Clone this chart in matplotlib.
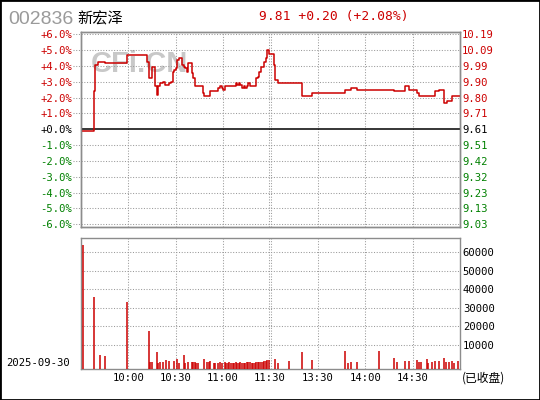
"""
Intraday chart (price line + volume bars) for one stock, 2025-09-30.
"""

import matplotlib
matplotlib.use("Agg")           # no GUI needed
import matplotlib.pyplot as plt
from matplotlib.patches import Rectangle

CODE = "002836"
NAME = "新宏泽"
DATE = "2025-09-30"
STATUS = "(已收盘)"
PREV_CLOSE = 9.61
LAST = 9.81

# price changes: trading minute after 9:30 -> new price (held until next change)
PRICE_MIN = [0, 8, 9, 11, 15, 29, 42, 43, 45, 47, 48, 49, 50, 52, 53, 56, 57,
             58, 59, 60, 61, 62, 64, 65, 66, 67, 68, 70, 71, 72, 77, 78, 82,
             87, 88, 89, 90, 91, 98, 99, 100, 101, 102, 103, 104, 105, 106,
             107, 111, 112, 113, 114, 116, 117, 118, 119, 122, 123, 125, 140,
             146, 167, 171, 175, 198, 205, 208, 213, 214, 224, 227, 230, 232,
             235, 240]
PRICE = [9.60, 9.84, 10.00, 10.02, 10.01, 10.06, 10.02, 9.92, 9.99, 9.87,
         9.82, 9.87, 9.89, 9.90, 9.88, 9.89, 9.90, 9.96, 9.97, 9.98, 10.03,
         10.04, 10.00, 9.99, 9.98, 9.96, 10.01, 9.95, 9.92, 9.87, 9.83, 9.81,
         9.84, 9.86, 9.87, 9.86, 9.85, 9.87, 9.89, 9.88, 9.89, 9.88, 9.86,
         9.87, 9.86, 9.87, 9.89, 9.87, 9.92, 9.93, 9.96, 9.99, 10.02, 10.04,
         10.09, 10.07, 10.00, 9.91, 9.89, 9.81, 9.83, 9.85, 9.86, 9.85, 9.84,
         9.87, 9.85, 9.83, 9.81, 9.84, 9.85, 9.77, 9.78, 9.81, 9.81]

# volume per trading minute (only minutes with trades)
VOL_MIN = [1, 8, 12, 15, 29, 43, 44, 45, 48, 49, 50, 52, 54, 56, 59, 61, 62,
           65, 66, 68, 70, 71, 72, 73, 74, 78, 80, 81, 82, 84, 85, 87, 88, 89,
           91, 92, 93, 94, 95, 96, 97, 98, 99, 100, 101, 102, 103, 104, 105,
           106, 107, 108, 109, 110, 111, 112, 113, 114, 115, 116, 117, 118,
           119, 123, 125, 132, 140, 146, 167, 169, 171, 175, 189, 198, 200,
           205, 208, 213, 214, 215, 219, 220, 222, 224, 227, 230, 231, 233,
           235, 236, 239]
VOL = [64100, 36000, 4600, 4100, 33100, 17500, 900, 900, 6300, 500, 900, 900,
       2000, 1500, 1500, 2400, 500, 4600, 500, 600, 1000, 700, 700, 500, 500,
       2300, 800, 800, 1400, 450, 450, 500, 800, 400,
       800, 500, 500, 600, 500, 500, 500, 600, 500, 500, 600, 500, 500, 500,
       600, 800, 600, 500, 500, 500, 900, 700, 900, 900, 800, 1300, 1400,
       1900, 2000, 2400, 300, 1350, 6300, 1900, 6800, 400, 900, 900, 6800,
       3000, 900, 1400, 1400, 2000, 900, 900, 2500, 400, 900, 1400, 1400,
       3000, 900, 900, 1400, 400, 1400]

TIME_GRID = [30, 60, 90, 119, 120.5, 150, 180, 210]
TIME_TICKS = [30, 60, 90, 119.7, 150, 180, 210]
TIME_LABELS = ["10:00", "10:30", "11:00", "11:30", "13:30", "14:00", "14:30"]
PCT_TICKS = [-6, -5, -4, -3, -2, -1, 0, 1, 2, 3, 4, 5, 6]
VOL_TICKS = [10000, 20000, 30000, 40000, 50000, 60000]

RED = "#cc0000"
GREEN = "#008000"
GRID = "#9a9a9a"
FRAME = "#8c8c8c"
MONO = "DejaVu Sans Mono"
CJK = ["Noto Sans CJK SC", "DejaVu Sans"]
W, H = 540, 400


def box(left, top, right, bottom):
    return [left / W, 1 - bottom / H, (right - left) / W, (bottom - top) / H]


def sign_color(v):
    return RED if v > 0 else (GREEN if v < 0 else "black")


fig = plt.figure(figsize=(W / 100, H / 100), dpi=100)
ax = fig.add_axes(box(81, 31.5, 460, 227))
axv = fig.add_axes(box(81, 238.3, 460, 369.3))
dots = (0, (1, 1.6))

# ---- price panel
pct = [(p / PREV_CLOSE - 1) * 100 for p in PRICE]
ax.set_xlim(0, 240)
ax.set_ylim(-6.18, 6.18)
ax.text(0.153, 0.834, "CFi.CN", transform=ax.transAxes, ha="center",
        va="center", fontsize=21, fontweight="bold", color="#c8c8c8",
        family="Liberation Sans", zorder=1)
for p in PCT_TICKS:
    if p != 0:
        ax.axhline(p, xmin=-0.022, xmax=1, color=GRID, lw=0.75, ls=dots,
                   clip_on=False, zorder=2)
for t in TIME_GRID:
    ax.axvline(t, color=GRID, lw=0.75, ls=dots, zorder=2)
ax.axhline(0, color="black", lw=1.1, zorder=3)
ax.step(PRICE_MIN, pct, where="post", color=RED, lw=1.1, zorder=4)

ax.set_xticks([])
ax.set_yticks(PCT_TICKS)
ax.set_yticklabels([f"{p:+.1f}%" for p in PCT_TICKS], family=MONO,
                   fontsize=7.6)
for lab, p in zip(ax.get_yticklabels(), PCT_TICKS):
    lab.set_color(sign_color(p))
ax.tick_params(axis="y", length=0, pad=6.5)

ax2 = ax.twinx()
ax2.set_ylim(ax.get_ylim())
ax2.set_yticks(PCT_TICKS)
ax2.set_yticklabels([f"{PREV_CLOSE * (1 + p / 100):.2f}" for p in PCT_TICKS],
                    family=MONO, fontsize=7.6)
for lab, p in zip(ax2.get_yticklabels(), PCT_TICKS):
    lab.set_color(sign_color(p))
ax2.tick_params(axis="y", length=0, pad=1.5)

for a in (ax, ax2, axv):
    for s in a.spines.values():
        s.set_color(FRAME)
        s.set_linewidth(1.0)

# ---- volume panel
axv.set_xlim(0, 240)
axv.set_ylim(-3130, 67500)
for v in VOL_TICKS:
    axv.axhline(v, color=GRID, lw=0.75, ls=dots, zorder=1)
for t in TIME_GRID:
    axv.axvline(t, color=GRID, lw=0.75, ls=dots, zorder=1)
axv.vlines(VOL_MIN, -3130, VOL, color=RED, lw=1.1, zorder=3)

axv.yaxis.tick_right()
axv.set_yticks(VOL_TICKS)
axv.set_yticklabels([str(v) for v in VOL_TICKS], family=MONO, fontsize=7.6)
axv.set_xticks(TIME_TICKS)
axv.set_xticklabels(TIME_LABELS, family=MONO, fontsize=7.6)
axv.tick_params(length=0)
axv.tick_params(axis="y", pad=2)
axv.tick_params(axis="x", pad=3)

# ---- header and footer texts
chg = LAST - PREV_CLOSE
fig.text(8 / W, 1 - 24 / H, CODE, family="Liberation Sans", fontsize=14,
         color="#9a9a9a", va="baseline")
fig.text(77 / W, 1 - 23 / H, NAME, family=CJK, fontsize=11, color="black",
         va="baseline")
fig.text(259 / W, 1 - 20 / H,
         f"{LAST:.2f} {chg:+.2f} ({chg / PREV_CLOSE * 100:+.2f}%)",
         family=MONO, fontsize=9.4, color=RED, va="baseline")
fig.text(6 / W, 1 - 363 / H, DATE, family=MONO, fontsize=7.6, va="center")
fig.text(462 / W, 1 - 378 / H, STATUS, family=CJK, fontsize=8.5, va="center")

fig.add_artist(Rectangle((0, 0), 1, 1, transform=fig.transFigure, fill=False,
                         ec="black", lw=2))

fig.savefig("out.png", dpi=100)
plt.close(fig)
